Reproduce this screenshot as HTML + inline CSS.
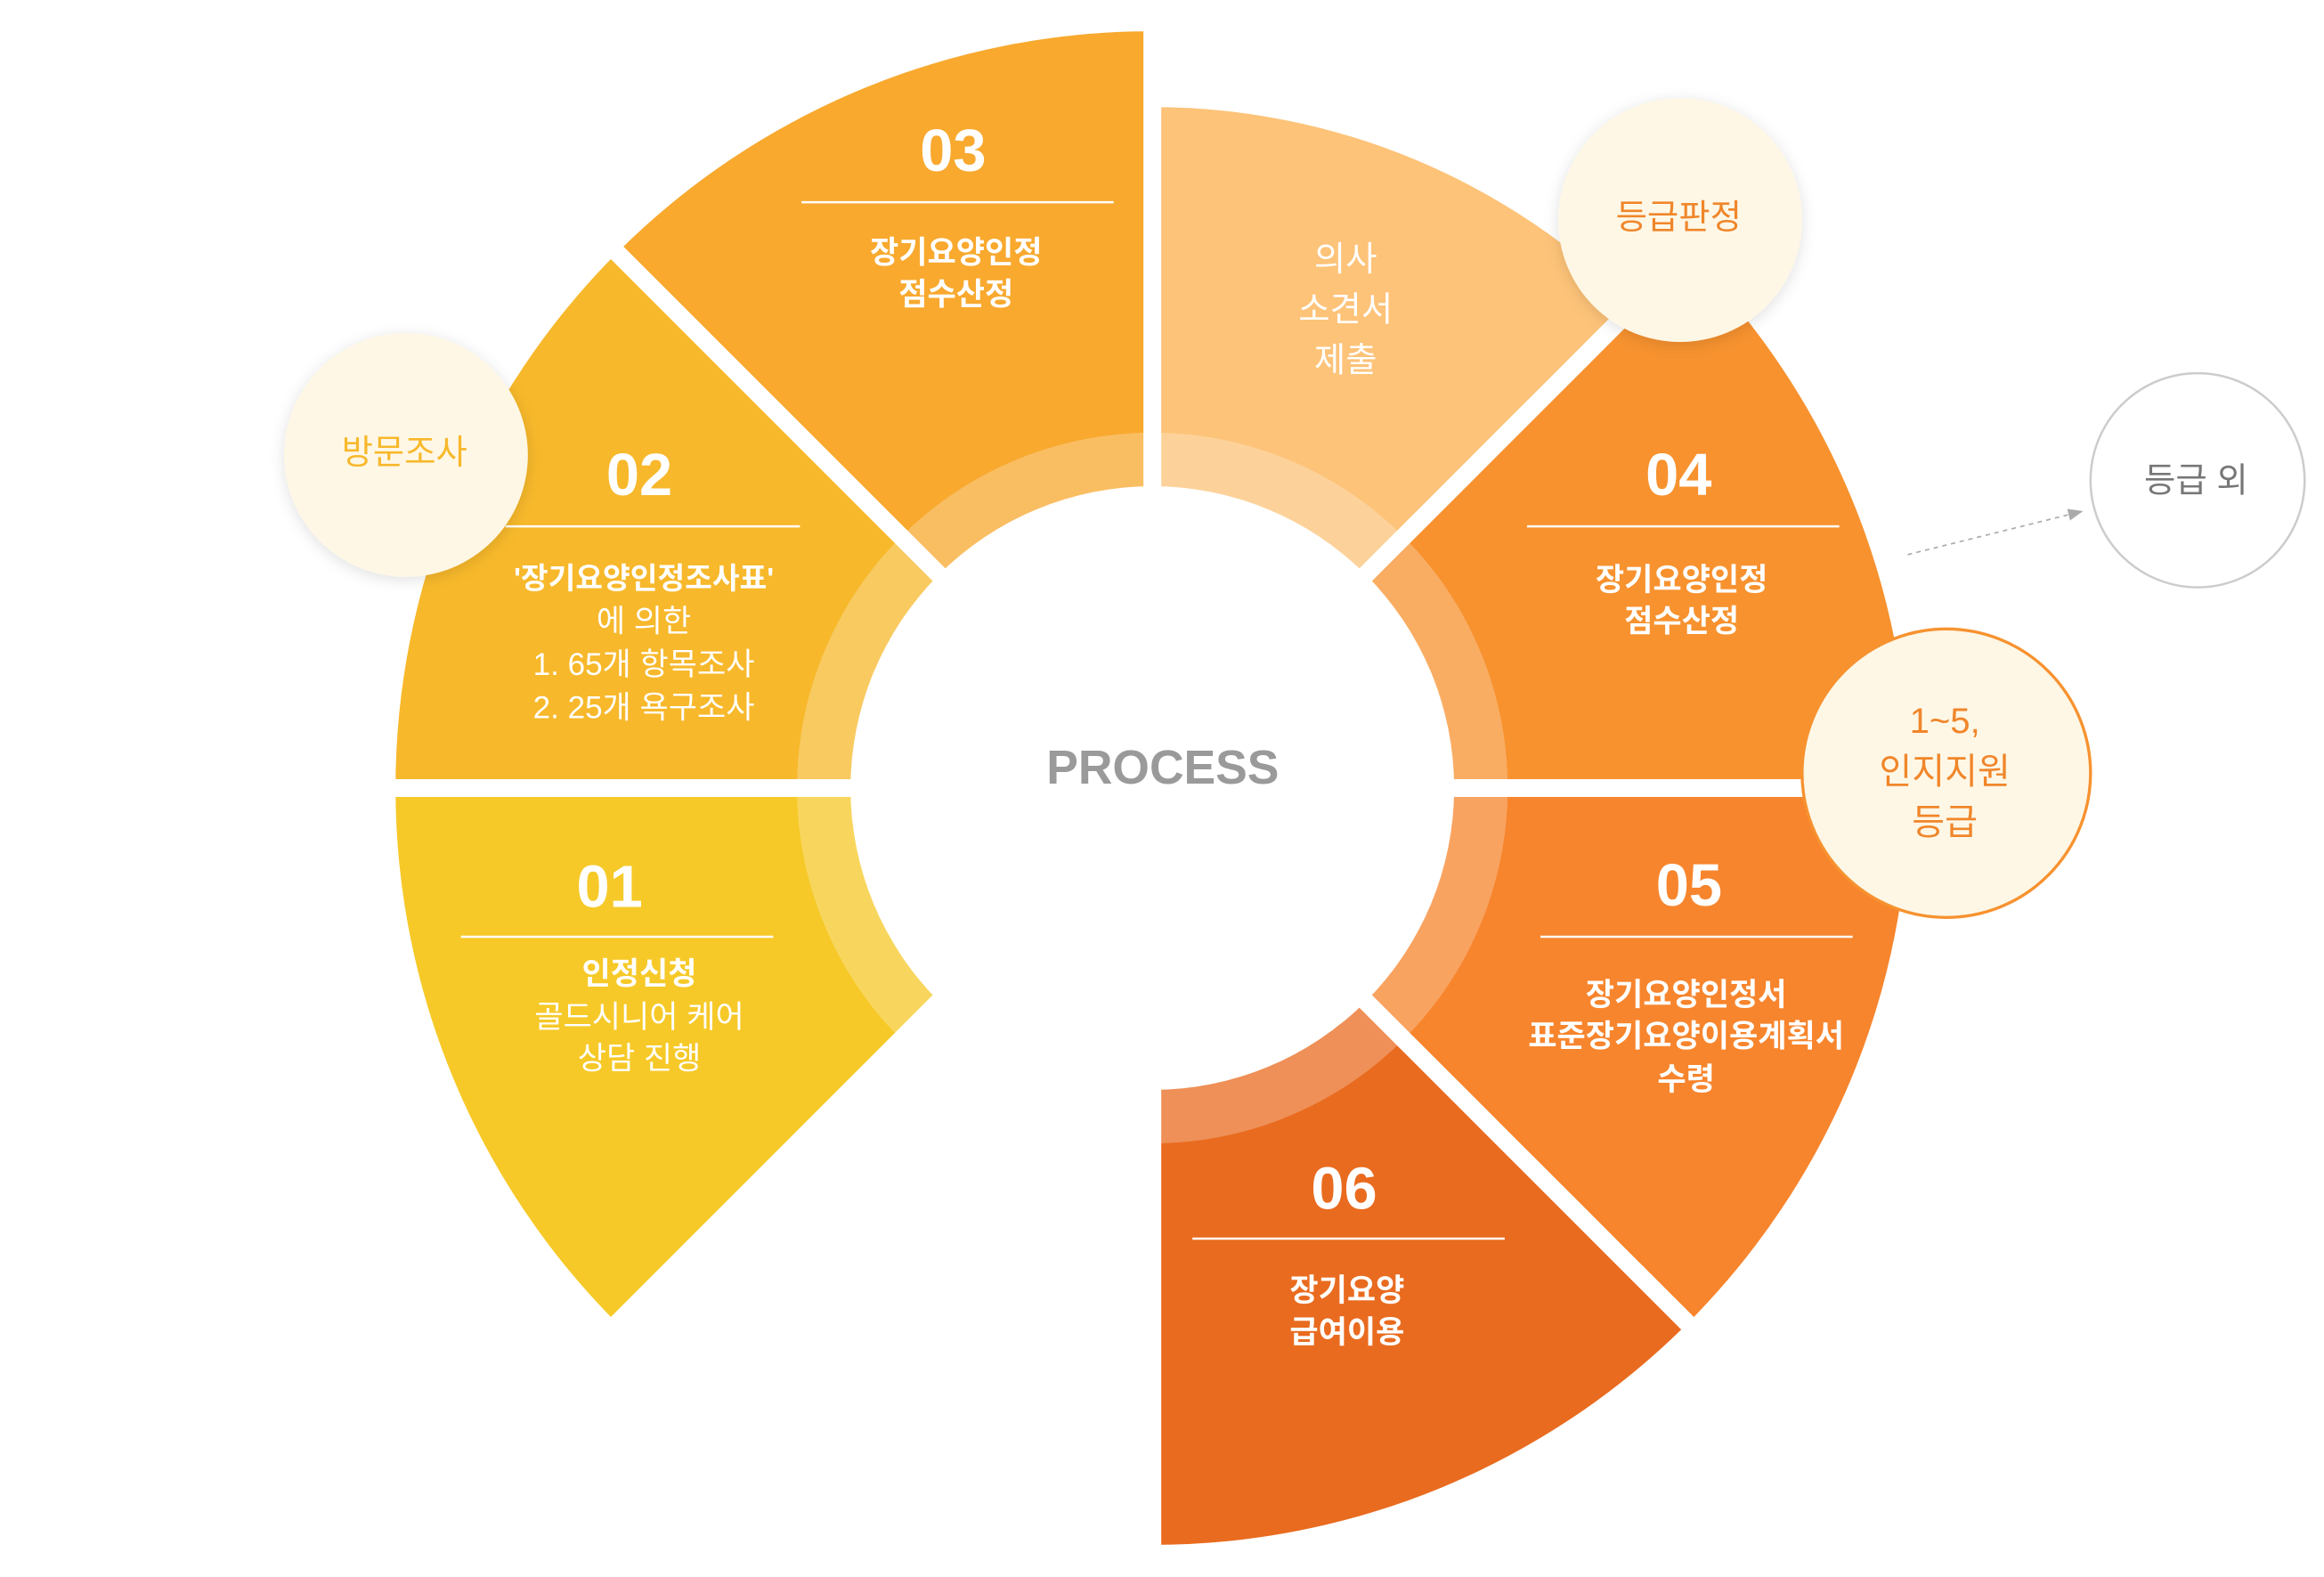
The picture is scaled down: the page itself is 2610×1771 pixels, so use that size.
<!DOCTYPE html>
<html><head><meta charset="utf-8"><style>
html,body{margin:0;padding:0;background:#fff;}
svg{display:block;}
text{font-family:"Liberation Sans","Noto Sans CJK KR",sans-serif;}
</style></head><body>
<svg width="2610" height="1771" viewBox="0 0 1563 1060.6" xmlns="http://www.w3.org/2000/svg">
<defs>
<filter id="sh" x="-30%" y="-30%" width="160%" height="160%"><feDropShadow dx="0" dy="2" stdDeviation="5" flood-color="#000" flood-opacity="0.12"/></filter>
<marker id="ar" markerWidth="10" markerHeight="10" refX="9" refY="5" orient="auto"><path d="M0,1 L10,5 L0,9 Z" fill="#aaa"/></marker>
</defs>
<path d="M775,530 L415,170 A509,509 0 0 1 775,21 Z" fill="#F8A92E"/>
<path d="M775,530 L266,530 A509,509 0 0 1 415,170 Z" fill="#F7B82B"/>
<path d="M775,530 L415,890 A509,509 0 0 1 266,530 Z" fill="#F6C928"/>
<path d="M775,530 L775,72 A458,458 0 0 1 1099,206 Z" fill="#FDC379"/>
<path d="M775,530 L1135,170 A509,509 0 0 1 1284,530 Z" fill="#F7922F"/>
<path d="M775,530 L1284,530 A509,509 0 0 1 1135,890 Z" fill="#F7852D"/>
<path d="M775,530 L1135,890 A509,509 0 0 1 775,1039 Z" fill="#E96B1F"/>
<circle cx="775" cy="530" r="221" fill="none" stroke="#fff" stroke-opacity="0.25" stroke-width="36"/>
<g stroke="#fff" stroke-width="12">
<line x1="200" y1="530" x2="1360" y2="530"/>
<line x1="775" y1="0" x2="775" y2="1060"/>
<line x1="368" y1="123" x2="1182" y2="937"/>
<line x1="368" y1="937" x2="1182" y2="123"/>
</g>
<circle cx="775" cy="530" r="203" fill="#fff"/>
<text x="782" y="527" text-anchor="middle" font-size="32" font-weight="bold" fill="#9a9a9a">PROCESS</text>

<g fill="#fff" text-anchor="middle">
<text x="410" y="610" font-size="40" font-weight="bold">01</text>
<text x="430" y="662" font-size="21" font-weight="bold">인정신청</text>
<text x="430" y="691" font-size="21">골드시니어 케어</text>
<text x="430" y="719" font-size="21">상담 진행</text>
<text x="430" y="333" font-size="40" font-weight="bold">02</text>
<text x="433" y="396" font-size="20" font-weight="bold">'장기요양인정조사표'</text>
<text x="433" y="425" font-size="21">에 의한</text>
<text x="433" y="454" font-size="21">1. 65개 항목조사</text>
<text x="433" y="483" font-size="21">2. 25개 욕구조사</text>
<text x="641" y="115" font-size="40" font-weight="bold">03</text>
<text x="643" y="177" font-size="21" font-weight="bold">장기요양인정</text>
<text x="643" y="205" font-size="21" font-weight="bold">점수산정</text>
<text x="905" y="182" font-size="23">의사</text>
<text x="905" y="216" font-size="23">소견서</text>
<text x="905" y="250" font-size="23">제출</text>
<text x="1129" y="333" font-size="40" font-weight="bold">04</text>
<text x="1131" y="397" font-size="21" font-weight="bold">장기요양인정</text>
<text x="1131" y="425" font-size="21" font-weight="bold">점수산정</text>
<text x="1136" y="609" font-size="40" font-weight="bold">05</text>
<text x="1134" y="676" font-size="21" font-weight="bold">장기요양인정서</text>
<text x="1134" y="704" font-size="21" font-weight="bold">표준장기요양이용계획서</text>
<text x="1134" y="733" font-size="21" font-weight="bold">수령</text>
<text x="904" y="813" font-size="40" font-weight="bold">06</text>
<text x="906" y="875" font-size="21" font-weight="bold">장기요양</text>
<text x="906" y="903" font-size="21" font-weight="bold">급여이용</text>
</g>
<g stroke="#fff" stroke-width="1.5">
<line x1="310" y1="630" x2="520" y2="630"/>
<line x1="340" y1="354" x2="538" y2="354"/>
<line x1="539" y1="136" x2="749" y2="136"/>
<line x1="1027" y1="354" x2="1237" y2="354"/>
<line x1="1036" y1="630" x2="1246" y2="630"/>
<line x1="802" y1="833" x2="1012" y2="833"/>
</g>

<circle cx="273" cy="306" r="82" fill="#FEF7E6" filter="url(#sh)"/>
<text x="272" y="312" text-anchor="middle" font-size="23" fill="#F7B82B">방문조사</text>
<circle cx="1130" cy="148" r="82" fill="#FEF7E6" filter="url(#sh)"/>
<text x="1129" y="154" text-anchor="middle" font-size="23" fill="#F0862A">등급판정</text>
<circle cx="1309" cy="520" r="97" fill="#FEF7E6" stroke="#F7922F" stroke-width="2"/>
<g text-anchor="middle" font-size="24" fill="#F0862A">
<text x="1308" y="493">1~5,</text>
<text x="1308" y="527">인지지원</text>
<text x="1308" y="561">등급</text>
</g>
<circle cx="1478" cy="323" r="72" fill="#fff" stroke="#ccc" stroke-width="1.5"/>
<text x="1477" y="331" text-anchor="middle" font-size="23" fill="#777">등급 외</text>
<line x1="1283" y1="373" x2="1400" y2="344" stroke="#aaa" stroke-width="1" stroke-dasharray="3,3" marker-end="url(#ar)"/>
</svg>
</body></html>
